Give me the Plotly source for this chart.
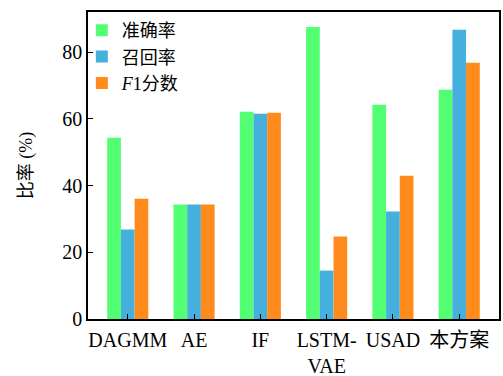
import plotly.graph_objects as go

categories = ["DAGMM", "AE", "IF", "LSTM-<br>VAE", "USAD", "本方案"]
accuracy = [54.3, 34.3, 62.1, 87.5, 64.2, 68.7]
recall = [26.8, 34.3, 61.5, 14.5, 32.2, 86.7]
f1 = [36.0, 34.3, 61.8, 24.7, 42.9, 76.8]
series_names = ["准确率", "召回率", "<i>F</i>1分数"]
colors = ["#52FF72", "#45B0DE", "#FF8B1C"]

fig = go.Figure()
for name, vals, c in zip(series_names, [accuracy, recall, f1], colors):
    fig.add_trace(go.Bar(x=categories, y=vals, name=name, marker=dict(color=c, line=dict(width=0))))

font_family = "Liberation Serif, Times New Roman, Noto Sans CJK SC, serif"
fig.update_layout(
    width=503, height=376,
    margin=dict(l=88, r=4, t=12, b=57, autoexpand=False),
    paper_bgcolor="white", plot_bgcolor="white",
    barmode="group", bargap=0.38, bargroupgap=0,
    font=dict(family=font_family, size=20, color="black"),
    legend=dict(x=-0.015, y=1.0, xanchor="left", yanchor="top", bgcolor="rgba(0,0,0,0)",
                font=dict(size=18), itemwidth=30, tracegroupgap=0),
    showlegend=True,
)
fig.update_xaxes(showline=True, linecolor="black", linewidth=1.5, mirror=True,
                 ticks="inside", ticklen=5, tickcolor="black", range=[-0.6, 5.6],
                 tickfont=dict(size=20), automargin=False, ticklabelstandoff=2)
fig.update_yaxes(showline=True, linecolor="black", linewidth=1.5, mirror=True,
                 ticks="inside", ticklen=5, tickcolor="black", range=[0, 92],
                 tickvals=[0, 20, 40, 60, 80], showgrid=False, zeroline=False,
                 title=dict(text="比率 (%)", standoff=25, font=dict(size=18)),
                 tickfont=dict(size=20), automargin=False)

fig.write_html("out.html", config={"displayModeBar": False},
               post_script="document.body.style.margin='0';")
